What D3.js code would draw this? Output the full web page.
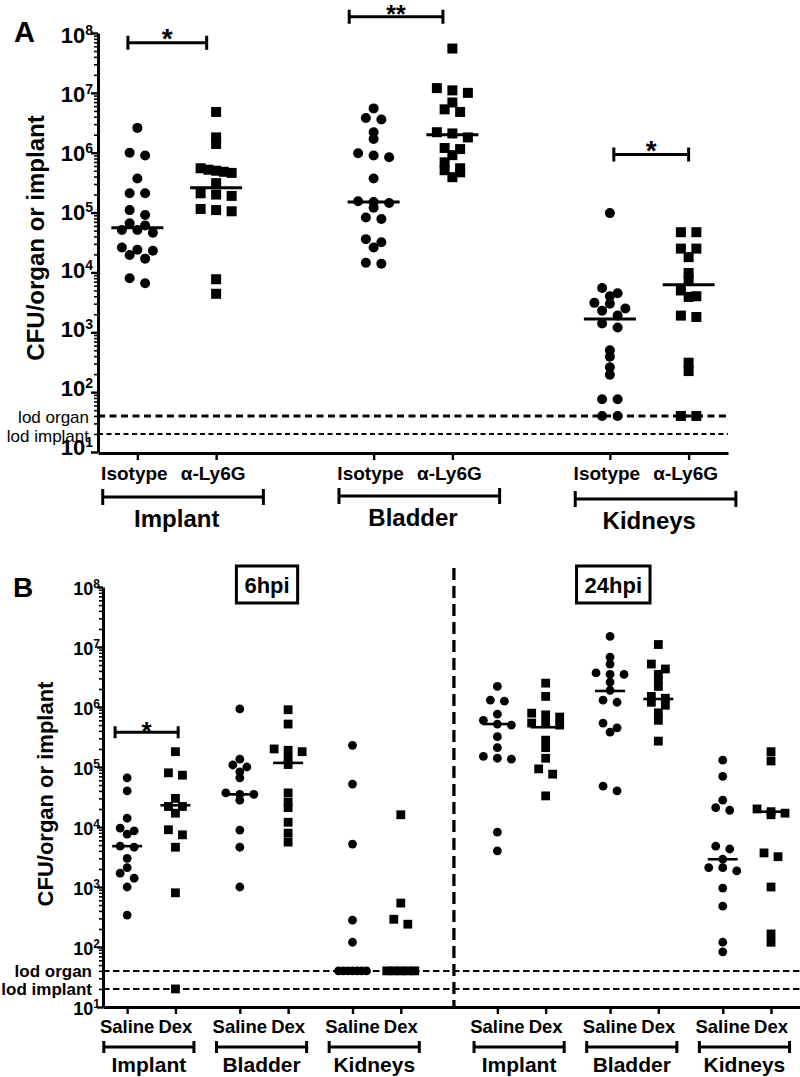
<!DOCTYPE html>
<html>
<head>
<meta charset="utf-8">
<script src="https://cdn.jsdelivr.net/npm/d3@7"></script>
<style>
  body { margin: 0; background: #fff; }
  svg { font-family: "Liberation Sans", Arial, Helvetica, sans-serif; }
</style>
</head>
<body>
<svg id="fig" width="800" height="1077"></svg>
<script>
// ---- dati pannello A (CFU)
const aGroups = ["Implant", "Bladder", "Kidneys"];
const aTreatments = ["Isotype", "α-Ly6G"];

const aImplantIsotype = [2.6e6, 1.0e6, 9e5, 3.7e5, 2.1e5, 2.1e5, 1.1e5, 9.1e4, 6.6e4, 6.1e4,
                         5.1e4, 5.1e4, 4.6e4, 2.6e4, 2.4e4, 2.3e4, 1.96e4, 1.7e4, 8e3, 6.6e3];
const aImplantLy6G = [4.8e6, 1.8e6, 1.4e6, 5.5e5, 5.0e5, 5.2e5, 4.6e5, 4.8e5, 3.1e5, 2.1e5,
                      2.0e5, 1.9e5, 1.15e5, 1.1e5, 1.05e5, 7.7e3, 4.4e3];
const aBladderIsotype = [5.5e6, 3.8e6, 3.6e6, 2.2e6, 1.7e6, 9.8e5, 9e5, 8.4e5, 3.7e5, 1.55e5,
                         1.5e5, 1.45e5, 1.2e5, 8.3e4, 7.8e4, 3.6e4, 3.2e4, 2.6e4, 1.45e4, 1.4e4];
const aBladderLy6G = [5.5e7, 1.2e7, 1.1e7, 1.0e7, 6.9e6, 5.3e6, 4.8e6, 2.2e6, 2.1e6, 1.8e6,
                      1.2e6, 1.15e6, 9.1e5, 6.9e5, 5.5e5, 5.1e5, 4.7e5, 3.9e5];
const aKidneysIsotype = [9.8e4, 5.5e3, 4.5e3, 4.0e3, 3.1e3, 3.0e3, 2.5e3, 2.3e3, 1.9e3, 1.4e3,
                         1.2e3, 500, 390, 260, 195, 76, 76, 40, 40];
const aKidneysLy6G = [4.7e4, 4.7e4, 2.5e4, 2.5e4, 1.8e4, 9.8e3, 7.4e3, 5e3, 4e3, 3.9e3,
                      1.9e3, 1.8e3, 310, 225, 40, 40];
const aMedians = [5.6e4, 2.6e5, 1.5e5, 2.0e6, 1.66e3, 6.2e3];

// ---- dati pannello B
const bTimes = ["6hpi", "24hpi"];
const bGroups = ["Implant", "Bladder", "Kidneys"];
const bTreatments = ["Saline", "Dex"];

const b6ImplantSaline = [6.6e4, 4e4, 1.4e4, 9.6e3, 8.6e3, 7.6e3, 4.8e3, 4.6e3, 3e3, 2.1e3, 1.7e3, 1.4e3, 1e3, 340];
const b6ImplantDex = [1.8e5, 8e4, 7.3e4, 3e4, 2.2e4, 2.2e4, 1.7e4, 9e3, 7.4e3, 4.6e3, 800, 20];
const b6BladderSaline = [9.3e5, 1.35e5, 1.08e5, 1e5, 8.3e4, 6.6e4, 3.7e4, 3.5e4, 3.5e4, 2.8e4, 8.9e3, 4.6e3, 1e3];
const b6BladderDex = [9e5, 5.2e5, 2e5, 1.9e5, 1.8e5, 1.4e5, 1.1e5, 3.7e4, 2.6e4, 2.1e4, 1.2e4, 7.9e3, 5.6e3];
const b6KidneysSaline = [2.3e5, 5.2e4, 5.2e3, 280, 120, 40, 40, 40, 40, 40, 40, 40];
const b6KidneysDex = [1.6e4, 540, 290, 240, 40, 40, 40, 40, 40];
const b24ImplantSaline = [2.2e6, 1.3e6, 1.25e6, 7.6e5, 6e5, 5.2e5, 5e5, 3.2e5, 2.1e5, 1.5e5, 1.4e5, 1.35e5, 8.2e3, 4e3];
const b24ImplantDex = [2.5e6, 1.5e6, 7.9e5, 7.4e5, 6.8e5, 5.4e5, 5.4e5, 5e5, 2.8e5, 2.1e5, 1.4e5, 9.3e4, 7.6e4, 3.3e4];
const b24BladderSaline = [1.5e7, 6.8e6, 5.2e6, 3.7e6, 3.5e6, 3.5e6, 2.6e6, 1.9e6, 1.3e6, 1.2e6, 5.4e5, 4.5e5, 3.8e5, 4.8e4, 4e4];
const b24BladderDex = [1.1e7, 5.2e6, 4.3e6, 3.5e6, 2.8e6, 2.2e6, 1.5e6, 1.4e6, 1.2e6, 1.07e6, 8e5, 6e5, 2.7e5];
const b24KidneysSaline = [1.3e5, 7e4, 2.8e4, 2.1e4, 1.9e4, 4.8e3, 4.3e3, 2.9e3, 2.1e3, 2.1e3, 1.85e3, 960, 480, 120, 83];
const b24KidneysDex = [1.8e5, 1.26e5, 2e4, 1.8e4, 1.7e4, 1.6e4, 3.7e3, 3.2e3, 1e3, 165, 120];
const b6Medians = [4.8e3, 2.3e4, 3.5e4, 1.17e5, 40, 40];
const b24Medians = [5.2e5, 4.6e5, 1.85e6, 1.36e6, 2.9e3, 1.8e4];

// limiti di rilevazione
const lodOrgan = 40;
const lodImplant = 20;

// ---- setup
const svg = d3.select("#fig");

const yA = d3.scaleLog().domain([10, 1e8]).range([452, 33]);
const xA = d3.scaleLinear().domain([-0.5, 7.5]).range([98, 728]);
const yB = d3.scaleLog().domain([10, 1e8]).range([1007, 587]);
const xB = d3.scaleLinear().domain([-1.5, 41.8]).range([103, 800]);

// disposizione a righe stile GraphPad (punti vicini in y affiancati e centrati)
function layoutRows(values, y, spacing, rowGap, maxWidth) {
    const pts = values.map(v => ({ v: v, py: y(v) })).sort((a, b) => a.py - b.py);
    const rows = [];
    let cur = null;
    pts.forEach(p => {
        if (cur && p.py - cur[0].py < rowGap) cur.push(p);
        else { cur = [p]; rows.push(cur); }
    });
    rows.forEach(row => {
        const n = row.length;
        const sp = n > 1 ? Math.min(spacing, maxWidth / (n - 1)) : 0;
        row.forEach((p, i) => p.dx = (i - (n - 1) / 2) * sp);
    });
    return pts;
}

function drawYAxis(y, x0, opt) {
    const all = y.ticks();
    const isMajor = v => Math.abs(Math.log10(v) - Math.round(Math.log10(v))) < 1e-9;
    const major = all.filter(isMajor);
    const minor = all.filter(v => !isMajor(v));

    const gMin = svg.append("g").attr("transform", `translate(${x0},0)`)
        .call(d3.axisLeft(y).tickValues(minor).tickSize(opt.minorLen).tickSizeOuter(0).tickFormat(""));
    gMin.select(".domain").remove();
    gMin.selectAll(".tick line").attr("stroke", "#000").attr("stroke-width", 1.6);

    const gMaj = svg.append("g").attr("transform", `translate(${x0},0)`)
        .call(d3.axisLeft(y).tickValues(major).tickSize(opt.majorLen).tickSizeOuter(0).tickFormat(""));
    gMaj.select(".domain").attr("stroke", "#000").attr("stroke-width", opt.axisW);
    gMaj.selectAll(".tick line").attr("stroke", "#000").attr("stroke-width", 2.4);

    // etichette 10^n
    major.forEach(v => {
        const e = Math.round(Math.log10(v));
        const t = svg.append("text")
            .attr("x", x0 - opt.labelGap)
            .attr("y", y(v) + opt.baseOff(e))
            .attr("text-anchor", "end")
            .attr("font-weight", "bold")
            .attr("font-size", opt.fs);
        t.append("tspan").text("10");
        t.append("tspan").attr("dy", opt.supDy).attr("font-size", opt.supFs).text(e);
    });
}

function drawXAxis(x, y0, slots) {
    const g = svg.append("g").attr("transform", `translate(0,${y0})`)
        .call(d3.axisBottom(x).tickValues(slots).tickSize(7).tickSizeOuter(0).tickFormat(""));
    g.select(".domain").attr("stroke", "#000").attr("stroke-width", 3);
    g.selectAll(".tick line").attr("stroke", "#000").attr("stroke-width", 2.4);
}

function drawLod(x, y, x1, x2, opt) {
    [[lodOrgan, "lod organ", opt.organW, opt.organDash, opt.organOff],
     [lodImplant, "lod implant", opt.implW, opt.implDash, opt.implOff]].forEach(d => {
        svg.append("line")
            .attr("x1", x1).attr("x2", x2)
            .attr("y1", y(d[0])).attr("y2", y(d[0]))
            .attr("stroke", "#000").attr("stroke-width", d[2])
            .attr("stroke-dasharray", d[3]);
        svg.append("text")
            .attr("x", opt.labelX).attr("y", y(d[0]) + d[4])
            .attr("text-anchor", "end")
            .attr("font-size", opt.fs)
            .attr("font-weight", opt.weight)
            .text(d[1]);
    });
}

function drawPoints(values, slot, x, y, shape, opt) {
    const pts = layoutRows(values, y, opt.spacing, opt.rowGap, opt.maxWidth);
    const cx = x(slot);
    if (shape === "circle") {
        svg.append("g").selectAll("circle").data(pts).join("circle")
            .attr("cx", d => cx + d.dx).attr("cy", d => d.py)
            .attr("r", opt.r).attr("fill", "#000");
    } else {
        const s = opt.r * 2;
        svg.append("g").selectAll("rect").data(pts).join("rect")
            .attr("x", d => cx + d.dx - s / 2).attr("y", d => d.py - s / 2)
            .attr("width", s).attr("height", s).attr("fill", "#000");
    }
}

function drawMedian(m, slot, x, y, half, w) {
    svg.append("line")
        .attr("x1", x(slot) - half).attr("x2", x(slot) + half)
        .attr("y1", y(m)).attr("y2", y(m))
        .attr("stroke", "#000").attr("stroke-width", w);
}

function drawBracket(x1, x2, yy, cap, w) {
    const p = d3.path();
    p.moveTo(x1, yy - cap); p.lineTo(x1, yy + cap);
    p.moveTo(x1, yy); p.lineTo(x2, yy);
    p.moveTo(x2, yy - cap); p.lineTo(x2, yy + cap);
    svg.append("path").attr("d", p.toString())
        .attr("fill", "none").attr("stroke", "#000").attr("stroke-width", w);
}

// ================= PANNELLO A =================
svg.append("text").attr("x", 14).attr("y", 42)
    .attr("font-size", 29).attr("font-weight", "bold").text("A");

drawLod(xA, yA, 98, 728, {
    organW: 3, organDash: "7,4.5", organOff: 7,
    implW: 2, implDash: "5,3.5", implOff: 8,
    labelX: 89, fs: 17, weight: "normal"
});

drawYAxis(yA, 98, {
    minorLen: 4, majorLen: 7, axisW: 3, labelGap: 5, fs: 22, supFs: 14, supDy: -8,
    baseOff: e => 3 + (e - 1) * 1.0
});

const aSlots = [0, 1, 3, 4, 6, 7];
drawXAxis(xA, 453, aSlots);

svg.append("text").attr("transform", "translate(44,238) rotate(-90)")
    .attr("text-anchor", "middle").attr("font-size", 24).attr("font-weight", "bold")
    .text("CFU/organ or implant");

const aSeries = [aImplantIsotype, aImplantLy6G, aBladderIsotype, aBladderLy6G, aKidneysIsotype, aKidneysLy6G];
const aOpt = { r: 5, spacing: 15.5, rowGap: 6, maxWidth: 31 };
aSeries.forEach((vals, i) => {
    drawPoints(vals, aSlots[i], xA, yA, i % 2 === 0 ? "circle" : "square", aOpt);
    drawMedian(aMedians[i], aSlots[i], xA, yA, 26, 3);
});

// etichette trattamento e gruppi
aSlots.forEach((s, i) => {
    svg.append("text").attr("x", xA(s) - 3).attr("y", 480)
        .attr("text-anchor", "middle").attr("font-size", 19).attr("font-weight", "bold")
        .text(aTreatments[i % 2]);
});
const aGroupDy = [0, -1, 2];
aGroups.forEach((g, i) => {
    const s = i * 3;
    drawBracket(xA(s - 0.44), xA(s + 1.6), 497 + aGroupDy[i], 8, 3);
    svg.append("text").attr("x", xA(s + 0.5)).attr("y", 527 + aGroupDy[i])
        .attr("text-anchor", "middle").attr("font-size", 24).attr("font-weight", "bold")
        .text(g);
});

// significativita
const aSig = [
    { from: -0.12, to: 0.88, level: 6.9e7, label: "*", fs: 28, dy: 5 },
    { from: 2.69, to: 3.88, level: 1.86e8, label: "**", fs: 25, dy: 6 },
    { from: 6.05, to: 7.0, level: 9.3e5, label: "*", fs: 28, dy: 5 }
];
aSig.forEach(d => {
    const yy = yA(d.level);
    drawBracket(xA(d.from), xA(d.to), yy, 7, 3);
    svg.append("text").attr("x", (xA(d.from) + xA(d.to)) / 2).attr("y", yy + d.dy)
        .attr("text-anchor", "middle").attr("font-size", d.fs).attr("font-weight", "bold")
        .text(d.label);
});

// ================= PANNELLO B =================
svg.append("text").attr("x", 13).attr("y", 597)
    .attr("font-size", 28).attr("font-weight", "bold").text("B");

drawLod(xB, yB, 103, 800, {
    organW: 2, organDash: "6.5,3.5", organOff: 6,
    implW: 2, implDash: "6.5,3.5", implOff: 6,
    labelX: 92, fs: 17, weight: "bold"
});

// separatore 6hpi / 24hpi
svg.append("line").attr("x1", xB(20.3)).attr("x2", xB(20.3))
    .attr("y1", 568).attr("y2", 1007)
    .attr("stroke", "#000").attr("stroke-width", 3.3).attr("stroke-dasharray", "12,6");

drawYAxis(yB, 103, {
    minorLen: 4, majorLen: 6, axisW: 3, labelGap: 3, fs: 18, supFs: 12, supDy: -7,
    baseOff: () => 8
});

const bSlots = [];
bTimes.forEach((t, h) => bGroups.forEach((g, gi) => bTreatments.forEach((tr, ti) => bSlots.push(h * 23 + gi * 7 + ti * 3))));
drawXAxis(xB, 1007, bSlots);

svg.append("text").attr("transform", "translate(53,794) rotate(-90)")
    .attr("text-anchor", "middle").attr("font-size", 22).attr("font-weight", "bold")
    .text("CFU/organ or implant");

const bSeries = [b6ImplantSaline, b6ImplantDex, b6BladderSaline, b6BladderDex, b6KidneysSaline, b6KidneysDex,
                 b24ImplantSaline, b24ImplantDex, b24BladderSaline, b24BladderDex, b24KidneysSaline, b24KidneysDex];
const bMedians = b6Medians.concat(b24Medians);
const bOpt = { r: 4.4, spacing: 14, rowGap: 5.5, maxWidth: 28 };
bSeries.forEach((vals, i) => {
    drawPoints(vals, bSlots[i], xB, yB, i % 2 === 0 ? "circle" : "square", bOpt);
    drawMedian(bMedians[i], bSlots[i], xB, yB, 15, 2.6);
});

bSlots.forEach((s, i) => {
    svg.append("text").attr("x", xB(s)).attr("y", 1033)
        .attr("text-anchor", "middle").attr("font-size", 18.5).attr("font-weight", "bold")
        .text(bTreatments[i % 2]);
});
bTimes.forEach((t, h) => bGroups.forEach((g, gi) => {
    const s = h * 23 + gi * 7;
    drawBracket(xB(s - 1.45), xB(s + 4.15), 1047, 6, 3);
    svg.append("text").attr("x", xB(s + 1.35)).attr("y", 1072)
        .attr("text-anchor", "middle").attr("font-size", 21).attr("font-weight", "bold")
        .text(g);
}));

// riquadri tempi
const bTimeSlots = [8.69, 30.2];
bTimes.forEach((t, h) => {
    const txt = svg.append("text").attr("x", xB(bTimeSlots[h])).attr("y", 593)
        .attr("text-anchor", "middle").attr("font-size", 22).attr("font-weight", "bold")
        .text(t);
    const bb = txt.node().getBBox();
    svg.append("rect").attr("x", bb.x - 8).attr("y", 566)
        .attr("width", bb.width + 16).attr("height", 37)
        .attr("fill", "none").attr("stroke", "#000").attr("stroke-width", 3);
});

// significativita 6hpi implant
const bSig = [{ from: -0.75, to: 3.17, level: 3.8e5, label: "*" }];
bSig.forEach(d => {
    const yy = yB(d.level);
    drawBracket(xB(d.from), xB(d.to), yy, 6, 3);
    svg.append("text").attr("x", (xB(d.from) + xB(d.to)) / 2).attr("y", yy + 8)
        .attr("text-anchor", "middle").attr("font-size", 26).attr("font-weight", "bold")
        .text(d.label);
});
</script>
</body>
</html>
